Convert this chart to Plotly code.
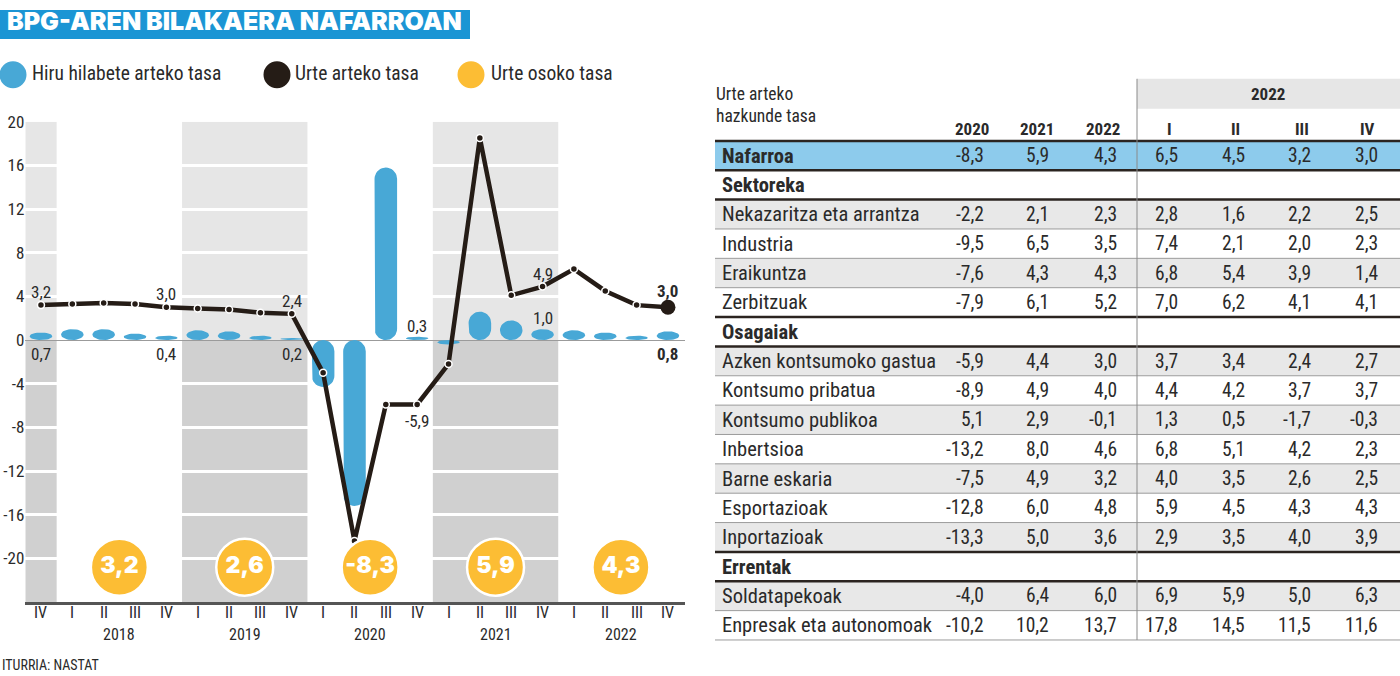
import math
import plotly.graph_objects as go

# ---------------- DATA ----------------
quarters = ["IV", "I", "II", "III", "IV", "I", "II", "III", "IV", "I", "II", "III", "IV",
            "I", "II", "III", "IV", "I", "II", "III", "IV"]
quarter_years = [2017] + [2018] * 4 + [2019] * 4 + [2020] * 4 + [2021] * 4 + [2022] * 4
qoq = [0.7, 1.0, 1.0, 0.6, 0.4, 0.9, 0.8, 0.4, 0.2, -4.3, -15.2, 15.8, 0.3,
       -0.4, 2.6, 1.8, 1.0, 0.9, 0.7, 0.4, 0.8]          # Hiru hilabete arteko tasa
yoy = [3.2, 3.3, 3.4, 3.3, 3.0, 2.9, 2.8, 2.5, 2.4, -3.0, -18.4, -5.9, -5.9,
       -2.2, 18.5, 4.1, 4.9, 6.5, 4.5, 3.2, 3.0]           # Urte arteko tasa
annual_years = [2018, 2019, 2020, 2021, 2022]
annual = [3.2, 2.6, -8.3, 5.9, 4.3]                        # Urte osoko tasa
shaded_years = [2017, 2019, 2021]
year_labels = [2018, 2019, 2020, 2021, 2022]
y_ticks = [-20, -16, -12, -8, -4, 0, 4, 8, 12, 16, 20]

yoy_label_idx = [0, 4, 8, 12, 16, 20]
yoy_label_pos = ["above", "above", "above", "below", "above", "above"]
qoq_label_idx = [0, 4, 8, 12, 16, 20]
qoq_label_pos = ["below", "below", "below", "above", "above", "below"]
bold_idx = [20]

legend_names = ["Hiru hilabete arteko tasa", "Urte arteko tasa", "Urte osoko tasa"]

table_title = ["Urte arteko", "hazkunde tasa"]
table_headers = ["2020", "2021", "2022", "I", "II", "III", "IV"]
table_group = "2022"
row_labels = ["Nafarroa", "Sektoreka", "Nekazaritza eta arrantza", "Industria", "Eraikuntza",
              "Zerbitzuak", "Osagaiak", "Azken kontsumoko gastua", "Kontsumo pribatua",
              "Kontsumo publikoa", "Inbertsioa", "Barne eskaria", "Esportazioak",
              "Inportazioak", "Errentak", "Soldatapekoak", "Enpresak eta autonomoak"]
row_kind = ["total", "section", "item", "item", "item", "item", "section", "item", "item",
            "item", "item", "item", "item", "item", "section", "item", "item"]
col_2020 = [-8.3, None, -2.2, -9.5, -7.6, -7.9, None, -5.9, -8.9, 5.1, -13.2, -7.5, -12.8, -13.3, None, -4.0, -10.2]
col_2021 = [5.9, None, 2.1, 6.5, 4.3, 6.1, None, 4.4, 4.9, 2.9, 8.0, 4.9, 6.0, 5.0, None, 6.4, 10.2]
col_2022 = [4.3, None, 2.3, 3.5, 4.3, 5.2, None, 3.0, 4.0, -0.1, 4.6, 3.2, 4.8, 3.6, None, 6.0, 13.7]
col_q1 = [6.5, None, 2.8, 7.4, 6.8, 7.0, None, 3.7, 4.4, 1.3, 6.8, 4.0, 5.9, 2.9, None, 6.9, 17.8]
col_q2 = [4.5, None, 1.6, 2.1, 5.4, 6.2, None, 3.4, 4.2, 0.5, 5.1, 3.5, 4.5, 3.5, None, 5.9, 14.5]
col_q3 = [3.2, None, 2.2, 2.0, 3.9, 4.1, None, 2.4, 3.7, -1.7, 4.2, 2.6, 4.3, 4.0, None, 5.0, 11.5]
col_q4 = [3.0, None, 2.5, 2.3, 1.4, 4.1, None, 2.7, 3.7, -0.3, 2.3, 2.5, 4.3, 3.9, None, 6.3, 11.6]
table_cols = [col_2020, col_2021, col_2022, col_q1, col_q2, col_q3, col_q4]

source = "ITURRIA: NASTAT"
title = "BPG-AREN BILAKAERA NAFARROAN"

# ---------------- STYLE / LAYOUT CONSTANTS ----------------
W, H = 1400, 676
FONT = "Roboto Condensed, Roboto, sans-serif"
NFONT = "Roboto Condensed, Roboto, sans-serif"
LFONT = "Roboto Condensed, Roboto, sans-serif"
HEAVY = "Inter, Lato, sans-serif"
BLUE = "#48a8d6"
DARK = "#251c16"
YELLOW = "#fcbd34"
TXT = "#2a2a2a"
BAND_UP = "#e6e6e6"
BAND_DN = "#d0d0d0"

# vertical calibration of the rendering (observed offset/scale)
V_OFF, V_SC = 8.0, 0.988

XMIN, XMAX = -0.5, 20.55
YMIN, YMAX = -24, 20
PX_L, PX_R = 25.3, 685.2
PY_T, PY_B = 120.0, 601.8
px_per_x = (PX_R - PX_L) / (XMAX - XMIN)
px_per_y = (PY_B - PY_T) / (YMAX - YMIN)
CIRCLE_Y = -20.8


def fx(x):
    return x / W


def fy(y):
    return 1 - ((y - V_OFF) / V_SC) / H


def fmt(v):
    return f"{v:.1f}".replace(".", ",")


fig = go.Figure()
shapes = []
ann = []

# bands
for yr in shaded_years:
    idx = [i for i, y in enumerate(quarter_years) if y == yr]
    x0, x1 = min(idx) - 0.5, max(idx) + 0.5
    shapes.append(dict(type="rect", xref="x", yref="y", x0=x0, x1=x1, y0=0, y1=YMAX,
                       fillcolor=BAND_UP, line_width=0, layer="below"))
    shapes.append(dict(type="rect", xref="x", yref="y", x0=x0, x1=x1, y0=YMIN, y1=0,
                       fillcolor=BAND_DN, line_width=0, layer="below"))

# pill-shaped bars
hw = 0.36
ry = hw * px_per_x / px_per_y
bx, by = [], []
N = 18
for i, v in enumerate(qoq):
    lo, hi = min(0, v), max(0, v)
    h = hi - lo
    if h >= 2 * ry:
        ct, cb, r = hi - ry, lo + ry, ry
    else:
        ct = cb = (hi + lo) / 2
        r = h / 2
    for k in range(N + 1):
        t = math.pi * k / N
        bx.append(i + hw * math.cos(t)); by.append(ct + r * math.sin(t))
    for k in range(N + 1):
        t = math.pi + math.pi * k / N
        bx.append(i + hw * math.cos(t)); by.append(cb + r * math.sin(t))
    bx.append(None); by.append(None)
fig.add_trace(go.Scatter(x=bx, y=by, mode="lines", fill="toself", fillcolor=BLUE,
                         line=dict(width=0, color=BLUE), hoverinfo="skip", showlegend=False))

# yoy line
xi = list(range(len(yoy)))
fig.add_trace(go.Scatter(x=xi, y=yoy, mode="lines+markers",
                         line=dict(color=DARK, width=4.5),
                         marker=dict(size=7, color=DARK, line=dict(color="white", width=1.5)),
                         hoverinfo="skip", showlegend=False))
fig.add_trace(go.Scatter(x=[xi[-1]], y=[yoy[-1]], mode="markers",
                         marker=dict(size=15, color=DARK), hoverinfo="skip", showlegend=False))

# annual circles
ax = [quarter_years.index(y) + 1.5 for y in annual_years]
fig.add_trace(go.Scatter(x=ax, y=[CIRCLE_Y] * len(ax), mode="markers+text",
                         text=[fmt(v) for v in annual], textposition="middle center",
                         textfont=dict(family=HEAVY, size=23, color="white", weight=900),
                         marker=dict(size=57, color=YELLOW, line=dict(color="white", width=2.5)),
                         hoverinfo="skip", showlegend=False))

# point labels
for i, pos in zip(yoy_label_idx, yoy_label_pos):
    b = i in bold_idx
    shift = 16 if b else 13
    ann.append(dict(x=i, y=yoy[i], xref="x", yref="y", text=("<b>%s</b>" % fmt(yoy[i])) if b else fmt(yoy[i]),
                    showarrow=False, yshift=shift if pos == "above" else -17, yanchor="middle",
                    font=dict(family=FONT, size=17, color=TXT)))
for i, pos in zip(qoq_label_idx, qoq_label_pos):
    b = i in bold_idx
    if pos == "above":
        yv, sh = qoq[i], 11
    else:
        yv, sh = 0, -14
    ann.append(dict(x=i, y=yv, xref="x", yref="y", text=("<b>%s</b>" % fmt(qoq[i])) if b else fmt(qoq[i]),
                    showarrow=False, yshift=sh, yanchor="middle",
                    font=dict(family=FONT, size=17, color=TXT)))

# quarter tick labels and year labels
for i, q in enumerate(quarters):
    ann.append(dict(x=i, y=fy(612), xref="x", yref="paper", text=q, showarrow=False,
                    yanchor="middle", font=dict(family=FONT, size=16, color=TXT)))
for yr in year_labels:
    ann.append(dict(x=quarter_years.index(yr) + 1.5, y=fy(634), xref="x", yref="paper",
                    text=str(yr), showarrow=False, yanchor="middle",
                    font=dict(family=FONT, size=16, color=TXT)))

# title
shapes.append(dict(type="rect", xref="paper", yref="paper", x0=0, x1=fx(470), y0=fy(37), y1=1,
                   fillcolor="#1b95d4", line_width=0))
ann.append(dict(x=fx(235), y=fy(19), xref="paper", yref="paper", text=title, showarrow=False,
                xanchor="center", yanchor="middle",
                font=dict(family=HEAVY, size=25, color="white", weight=900)))

# legend
leg_cx = [13, 277, 471]
leg_tx = [30, 293, 489]
leg_col = [BLUE, DARK, YELLOW]
for cx, tx, c, name in zip(leg_cx, leg_tx, leg_col, legend_names):
    shapes.append(dict(type="circle", xref="paper", yref="paper", x0=fx(cx - 13.5), x1=fx(cx + 13.5),
                       y0=fy(73 + 13.5), y1=fy(73 - 13.5), fillcolor=c, line_width=0))
    ann.append(dict(x=fx(tx), y=fy(72), xref="paper", yref="paper", text=name, showarrow=False,
                    xanchor="left", yanchor="middle", font=dict(family=FONT, size=19.5, color=TXT)))

# source
ann.append(dict(x=0, y=fy(665), xref="paper", yref="paper", text=source, showarrow=False,
                xanchor="left", yanchor="middle", font=dict(family=FONT, size=14, color=TXT)))

# ---------------- TABLE ----------------
T_L, T_R = 715, 1400
SEP_X = 1137
ROW0, ROWH = 154.0, 29.44
num_right = [986, 1051, 1119, 1180, 1247, 1313, 1380]
hdr_x = [991, 1056, 1122, 1169, 1235, 1302, 1367]
hdr_anchor = ["right", "right", "right", "center", "center", "center", "center"]

shapes.append(dict(type="rect", xref="paper", yref="paper", x0=fx(SEP_X), x1=fx(T_R),
                   y0=fy(107), y1=fy(77), fillcolor="#e6e6e6", line_width=0))
ann.append(dict(x=fx(1268), y=fy(92), xref="paper", yref="paper", text="<b>%s</b>" % table_group,
                showarrow=False, xanchor="center", yanchor="middle",
                font=dict(family=NFONT, size=17, color=TXT)))
for k, t in enumerate(table_title):
    ann.append(dict(x=fx(714), y=fy(92 + 22 * k), xref="paper", yref="paper", text=t, showarrow=False,
                    xanchor="left", yanchor="middle", font=dict(family=FONT, size=17.5, color=TXT)))
for h, x, a in zip(table_headers, hdr_x, hdr_anchor):
    ann.append(dict(x=fx(x), y=fy(127), xref="paper", yref="paper", text="<b>%s</b>" % h, showarrow=False,
                    xanchor=a, yanchor="middle", font=dict(family=NFONT, size=17, color=TXT)))

alt = 0
for r, (lab, kind) in enumerate(zip(row_labels, row_kind)):
    yc = ROW0 + r * ROWH
    top, bot = yc - ROWH / 2, yc + ROWH / 2
    fill = None
    if kind == "total":
        fill = "#8dcbec"
    elif kind == "section":
        alt = 0
    else:
        if alt % 2 == 0:
            fill = "#e8e8e8"
        alt += 1
    if fill:
        shapes.append(dict(type="rect", xref="paper", yref="paper", x0=fx(T_L), x1=fx(T_R),
                           y0=fy(bot), y1=fy(top), fillcolor=fill, line_width=0, layer="below"))
    txt = "<b>%s</b>" % lab if kind != "item" else lab
    ann.append(dict(x=fx(720), y=fy(yc), xref="paper", yref="paper", text=txt, showarrow=False,
                    xanchor="left", yanchor="middle", font=dict(family=LFONT, size=20.5, color=TXT)))
    for col, xr in zip(table_cols, num_right):
        v = col[r]
        if v is None:
            continue
        ann.append(dict(x=fx(xr), y=fy(yc), xref="paper", yref="paper", text=fmt(v), showarrow=False,
                        xanchor="right", yanchor="middle", font=dict(family=NFONT, size=19.5, color=TXT)))
    nxt = row_kind[r + 1] if r + 1 < len(row_kind) else None
    if kind == "total":
        shapes.append(dict(type="line", xref="paper", yref="paper", x0=fx(T_L), x1=fx(T_R),
                           y0=fy(top), y1=fy(top), line=dict(color="#2b2420", width=2.5)))
    if kind in ("section", "total") or nxt == "section":
        shapes.append(dict(type="line", xref="paper", yref="paper", x0=fx(T_L), x1=fx(T_R),
                           y0=fy(bot), y1=fy(bot), line=dict(color="#2b2420", width=2.5)))
    else:
        shapes.append(dict(type="line", xref="paper", yref="paper", x0=fx(T_L), x1=fx(T_R),
                           y0=fy(bot), y1=fy(bot), line=dict(color="#9c9c9c", width=1)))

last_bot = ROW0 + (len(row_labels) - 1) * ROWH + ROWH / 2
shapes.append(dict(type="line", xref="paper", yref="paper", x0=fx(SEP_X), x1=fx(SEP_X),
                   y0=fy(last_bot), y1=fy(77), line=dict(color="#8a8a8a", width=1)))

fig.update_layout(
    width=W, height=H, margin=dict(l=0, r=0, t=0, b=0, pad=0),
    paper_bgcolor="white", plot_bgcolor="white",
    shapes=shapes, annotations=ann, showlegend=False,
    xaxis=dict(domain=[fx(PX_L), fx(PX_R)], range=[XMIN, XMAX], showgrid=False, zeroline=False,
               showticklabels=False, ticks="",
               showline=True, linecolor="#555555", linewidth=3, fixedrange=True),
    yaxis=dict(domain=[fy(PY_B), fy(PY_T)], range=[YMIN, YMAX],
               tickvals=y_ticks, ticktext=[str(v) for v in y_ticks],
               showgrid=True, gridcolor="white", gridwidth=3, zeroline=True,
               zerolinecolor="#9b9b9b", zerolinewidth=1, ticks="", showline=False,
               tickfont=dict(family=FONT, size=17, color=TXT), fixedrange=True),
)

fig.write_html("out.html", config={"displayModeBar": False})
